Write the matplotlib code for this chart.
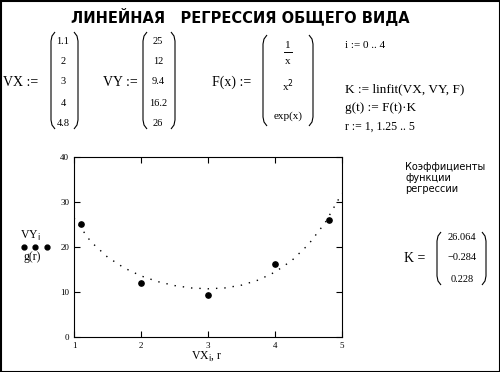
import matplotlib
matplotlib.use("Agg")
import matplotlib.pyplot as plt
from matplotlib.patches import Rectangle

# data
VX = [1.1, 2, 3, 4, 4.8]
VY = [25, 12, 9.4, 16.2, 26]
r = [1, 1.25, 1.5, 1.75, 2, 2.25, 2.5, 2.75, 3, 3.25, 3.5, 3.75, 4, 4.25, 4.5, 4.75, 5]
g_r = [26.40, 21.20, 17.76, 15.34, 13.58, 12.31, 11.43, 10.90, 10.71, 10.90,
       11.52, 12.65, 14.42, 16.99, 20.57, 25.43, 31.95]
K = [26.064, -0.284, 0.228]
x_ticks = [1, 2, 3, 4, 5]
y_ticks = [0, 10, 20, 30, 40]

SERIF = "Liberation Serif"

fig = plt.figure(figsize=(5, 3.72), dpi=100)

# overlay in pixel coordinates for the worksheet text
ov = fig.add_axes([0, 0, 1, 1])
ov.set_xlim(0, 500)
ov.set_ylim(372, 0)
ov.axis("off")
ov.patch.set_alpha(0)


def paren(x, top, bot, side):
    d = 4 if side == "l" else -4
    xs = [x + d, x + d / 4, x, x, x + d / 4, x + d]
    ys = [top, top + 4, top + 9, bot - 9, bot - 4, bot]
    ov.plot(xs, ys, color="black", lw=0.8, solid_capstyle="butt")


def mtext(x, y, s, size=9, ha="left", **kw):
    ov.text(x, y, s, fontsize=size, ha=ha, va="center", family=SERIF, **kw)


ov.text(240, 17, "ЛИНЕЙНАЯ   РЕГРЕССИЯ ОБЩЕГО ВИДА", fontsize=10.5,
        fontweight="bold", ha="center", va="center", family="DejaVu Sans")

# VX matrix
rows_y = [42, 61, 82, 103, 123]
mtext(3, 82, "VX :=", size=10)
paren(51, 32, 129, "l")
paren(78, 32, 129, "r")
for yy, v in zip(rows_y, VX):
    mtext(63, yy, str(v), size=7.5, ha="center")

# VY matrix
mtext(103, 82, "VY :=", size=10)
paren(143, 32, 129, "l")
paren(175, 32, 129, "r")
for yy, v in zip(rows_y, VY):
    mtext(158, yy, str(v), size=7.5, ha="center")

# F(x) matrix
mtext(212, 82, "F(x) :=", size=10)
paren(263, 35, 126, "l")
paren(313, 35, 126, "r")
mtext(288, 45, "1", size=8, ha="center")
ov.plot([284, 292], [52, 52], color="black", lw=0.7)
mtext(288, 62, "x", size=8, ha="center")
mtext(288, 86, "x$^{2}$", size=8, ha="center")
mtext(288, 116, "exp(x)", size=8, ha="center")

mtext(345, 45, "i := 0 .. 4", size=8)
mtext(345, 89, "K := linfit(VX, VY, F)", size=9.5)
mtext(345, 108, "g(t) := F(t)·K", size=9.5)
mtext(345, 127, "r := 1, 1.25 .. 5", size=8.5)

ov.text(405, 178, "Коэффициенты\nфункции\nрегрессии", fontsize=7,
        ha="left", va="center", family="DejaVu Sans", linespacing=1.1)

# K result
mtext(404, 258, "K =", size=10)
paren(437, 232, 285, "l")
paren(486, 232, 285, "r")
for yy, v in zip([238, 258, 279], K):
    mtext(462, yy, ("%.3f" % v).replace("-", "\u2212"), size=7.5, ha="center")

# axis labels
mtext(30, 236, "VY$_{\\rm i}$", size=8.5, ha="center")
ov.plot([24, 35, 47], [247, 247, 247], "o", color="black", ms=3.5)
mtext(32, 257, "g(r)", size=8.5, ha="center")
mtext(207, 356, "VX$_{\\rm i}$, r", size=8.5, ha="center")

ov.add_patch(Rectangle((0.5, 0.5), 499, 371, fill=False, ec="black", lw=1.5))

# plot
ax = fig.add_axes([74 / 500, 35 / 372, 268 / 500, 180 / 372])
ax.plot(VX, VY, "o", color="black", ms=3.8)
ax.plot(r, g_r, color="black", lw=1, linestyle=(0, (1, 5)))
ax.set_xlim(1, 5)
ax.set_ylim(0, 40)
ax.set_xticks(x_ticks)
ax.set_yticks(y_ticks)
ax.tick_params(direction="in", length=4, width=0.8, top=True, right=True,
               labelsize=6.5)
for lab in ax.get_xticklabels() + ax.get_yticklabels():
    lab.set_family(SERIF)
for s in ax.spines.values():
    s.set_linewidth(0.8)

fig.savefig("out.png", dpi=100)
